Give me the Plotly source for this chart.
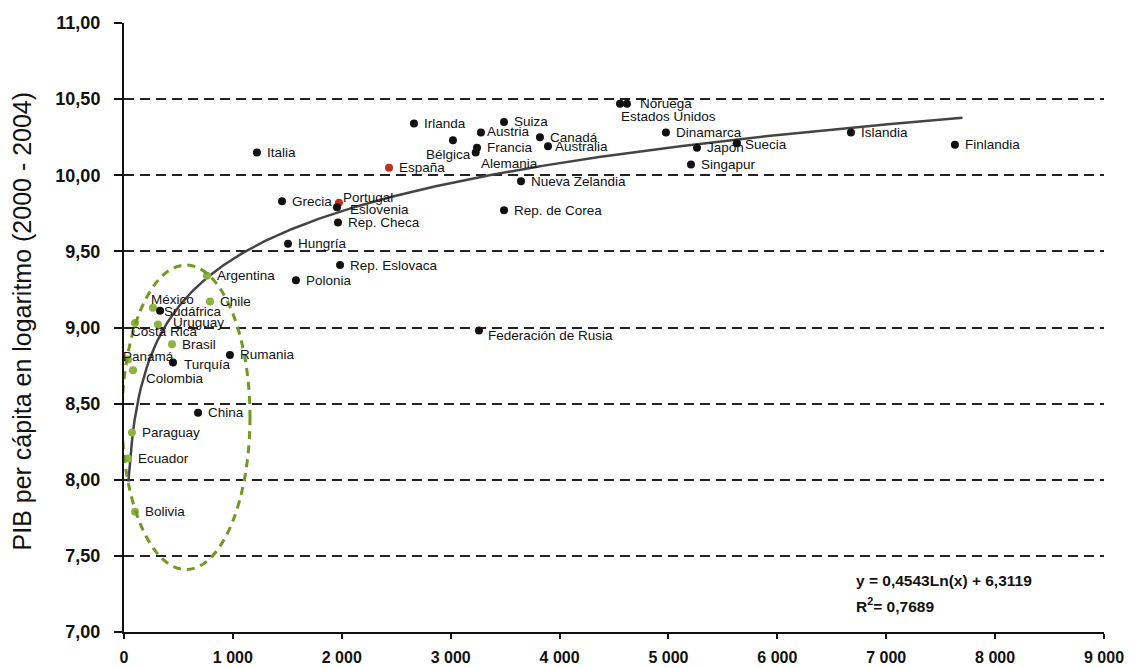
import numpy as np
import plotly.graph_objects as go

# ---------------- data ----------------
countries = ["Italia", "Irlanda", "Bélgica", "Austria", "Suiza", "Francia", "Alemania",
             "Canadá", "Australia", "Noruega", "Estados Unidos", "Dinamarca", "Japón",
             "Suecia", "Singapur", "Islandia", "Finlandia", "Nueva Zelandia", "España",
             "Portugal", "Eslovenia", "Grecia", "Rep. Checa", "Rep. de Corea", "Hungría",
             "Rep. Eslovaca", "Polonia", "Federación de Rusia", "Argentina", "Chile",
             "México", "Sudáfrica", "Uruguay", "Costa Rica", "Brasil", "Panamá", "Turquía",
             "Colombia", "Rumania", "China", "Paraguay", "Ecuador", "Bolivia"]
x_vals = [1221, 2663, 3021, 3278, 3490, 3242, 3230,
          3820, 3894, 4619, 4555, 4977, 5262,
          5629, 5207, 6676, 7631, 3646, 2434,
          1974, 1956, 1451, 1965, 3490, 1506,
          1984, 1579, 3260, 762, 790,
          266, 331, 312, 101, 441, 37, 450,
          83, 973, 680, 73, 37, 101]
y_vals = [10.15, 10.34, 10.23, 10.28, 10.35, 10.18, 10.15,
          10.25, 10.19, 10.47, 10.47, 10.28, 10.18,
          10.21, 10.07, 10.28, 10.20, 9.96, 10.05,
          9.82, 9.79, 9.83, 9.69, 9.77, 9.55,
          9.41, 9.31, 8.98, 9.34, 9.17,
          9.13, 9.11, 9.02, 9.03, 8.89, 8.79, 8.77,
          8.72, 8.82, 8.44, 8.31, 8.14, 7.79]
groups = ["o", "o", "o", "o", "o", "o", "o",
          "o", "o", "o", "o", "o", "o",
          "o", "o", "o", "o", "o", "es",
          "es", "o", "o", "o", "o", "o",
          "o", "o", "o", "la", "la",
          "la", "o", "la", "la", "la", "la", "o",
          "la", "o", "o", "la", "la", "la"]

x_tickvals = [0, 1000, 2000, 3000, 4000, 5000, 6000, 7000, 8000, 9000]
x_ticktext = ["0", "1 000", "2 000", "3 000", "4 000", "5 000", "6 000", "7 000", "8 000", "9 000"]
y_tickvals = [7.0, 7.5, 8.0, 8.5, 9.0, 9.5, 10.0, 10.5, 11.0]
y_ticktext = ["7,00", "7,50", "8,00", "8,50", "9,00", "9,50", "10,00", "10,50", "11,00"]

fit_a, fit_b = 0.4543, 6.3119
fit_x_range = [40, 7700]
ellipse_x = [-18, 1157]
ellipse_y = [7.41, 9.41]

# ---------------- style ----------------
colors = {"o": "#111111", "es": "#c0301c", "la": "#8db33a"}
label_style = {  # (xanchor, xshift, yshift)
    "Bélgica": ("right", 20, -14), "Alemania": ("left", 3, -11),
    "Estados Unidos": ("left", -1, -13), "Portugal": ("left", 2, 5),
    "Eslovenia": ("left", 11, -2), "Federación de Rusia": ("left", 7, -5),
    "México": ("left", -4, 8), "Sudáfrica": ("left", 2, -1),
    "Uruguay": ("left", 13, 2), "Costa Rica": ("left", -6, -9),
    "Panamá": ("left", -7, 3), "Colombia": ("left", 11, -8),
    "Turquía": ("left", 9, -2), "Suecia": ("left", 6, -1),
    "Australia": ("left", 5, 0), "Austria": ("left", 4, 1),
    "Noruega": ("left", 11, 0),
}
FONT = "Liberation Sans, Arial, sans-serif"

fig = go.Figure()

# trend line
fx = np.linspace(fit_x_range[0], fit_x_range[1], 400)
fig.add_trace(go.Scatter(x=fx, y=fit_a * np.log(fx) + fit_b, mode="lines",
                         line=dict(color="#444444", width=2.5), hoverinfo="skip",
                         showlegend=False))

# points
fig.add_trace(go.Scatter(x=x_vals, y=y_vals, mode="markers",
                         marker=dict(size=8, color=[colors[g] for g in groups]),
                         text=countries, cliponaxis=False, showlegend=False))

annotations = []
for c, xv, yv in zip(countries, x_vals, y_vals):
    anc, dx, dy = label_style.get(c, ("left", 8, 0))
    annotations.append(dict(x=xv, y=yv, text=c, showarrow=False, xanchor=anc,
                            yanchor="middle", xshift=dx, yshift=dy,
                            font=dict(family=FONT, size=13.5, color="#111111")))

annotations.append(dict(xref="paper", yref="paper", x=0.745, y=0.085, xanchor="left",
                        yanchor="middle", showarrow=False,
                        text="y = 0,4543Ln(x) + 6,3119",
                        font=dict(family=FONT, size=15.5, color="#111111", weight="bold")))
annotations.append(dict(xref="paper", yref="paper", x=0.745, y=0.044, xanchor="left",
                        yanchor="middle", showarrow=False,
                        text="R<sup>2</sup>= 0,7689",
                        font=dict(family=FONT, size=15.5, color="#111111", weight="bold")))
annotations.append(dict(xref="paper", yref="paper", x=-0.104, y=0.51, xanchor="center",
                        yanchor="middle", showarrow=False, textangle=-90,
                        text="PIB per cápita en logaritmo (2000 - 2004)",
                        font=dict(family=FONT, size=25, color="#111111")))

fig.update_layout(
    width=1126, height=660,
    margin=dict(l=116, r=30, t=15, b=36, autoexpand=False),
    paper_bgcolor="white", plot_bgcolor="white",
    showlegend=False,
    annotations=annotations,
    shapes=[dict(type="circle", xref="x", yref="y",
                 x0=ellipse_x[0], x1=ellipse_x[1], y0=ellipse_y[0], y1=ellipse_y[1],
                 line=dict(color="#6f9a22", width=3, dash="8px,6px"), layer="above")],
    xaxis=dict(range=[0, 9000], tickvals=x_tickvals, ticktext=x_ticktext,
               automargin=False,
               showgrid=False, zeroline=False, showline=True, linecolor="#111111",
               linewidth=2, ticks="outside", ticklen=5, tickwidth=1.5, tickcolor="#111111",
               ticklabelstandoff=5,
               tickfont=dict(family=FONT, size=16, color="#111111", weight="bold")),
    yaxis=dict(range=[7, 11], tickvals=y_tickvals, ticktext=y_ticktext,
               automargin=False,
               showgrid=True, gridcolor="#222222", gridwidth=2, griddash="10px,6px",
               zeroline=False, showline=True, linecolor="#111111", linewidth=2,
               ticks="outside", ticklen=8, tickwidth=1.5, tickcolor="#111111",
               ticklabelstandoff=10,
               tickfont=dict(family=FONT, size=18, color="#111111", weight="bold")),
)

fig.write_html("out.html")
